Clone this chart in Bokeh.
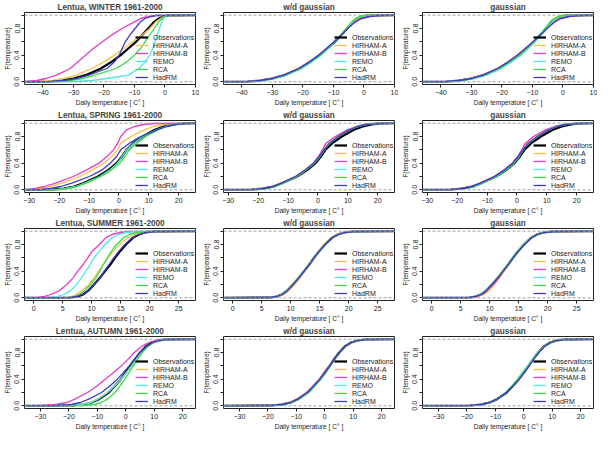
from bokeh.plotting import figure
from bokeh.layouts import gridplot
from bokeh.models import Range1d, FixedTicker, Span, Legend, LegendItem, PrintfTickFormatter
from bokeh.embed import file_html
from bokeh.resources import INLINE

# cumulative probability levels at which temperatures were read
P_LEVELS = [0.005, 0.02, 0.05, 0.1, 0.2, 0.3, 0.4, 0.5, 0.6, 0.7, 0.8, 0.9, 0.95, 0.98, 0.995]

SERIES = ["Observations", "HIRHAM-A", "HIRHAM-B", "REMO", "RCA", "HadRM"]
MODELS = SERIES[1:]

SEASONS = ["WINTER", "SPRING", "SUMMER", "AUTUMN"]
X_LIMITS = {"WINTER": (-46, 10), "SPRING": (-31.6, 25.6), "SUMMER": (-1.6, 27.9), "AUTUMN": (-35.6, 24.5)}
X_TICKS = {"WINTER": [-40, -30, -20, -10, 0, 10], "SPRING": [-30, -20, -10, 0, 10, 20],
           "SUMMER": [0, 5, 10, 15, 20, 25], "AUTUMN": [-30, -20, -10, 0, 10, 20]}
Y_TICKS = [0.0, 0.4, 0.8]
Y_MINOR = [0.2, 0.6, 1.0]

# ---- WINTER ----
WINTER_OBS = [-38, -34, -30, -26, -21, -17.5, -14.5, -12, -9.5, -7.5, -5.5, -3.5, -2, -0.5, 1]
WINTER_RAW = {
    "HIRHAM-A": [-42, -37, -33, -29, -24, -20, -16.5, -13.5, -10.5, -7.5, -5, -3, -1.5, -0.5, 0.5],
    "HIRHAM-B": [-45, -42, -39, -35.5, -31, -28.5, -26, -23.5, -20.5, -17.5, -14, -10, -8, -5.5, -3],
    "REMO": [-30, -24, -19, -12, -8.5, -6.5, -5, -4, -3.2, -2.5, -1.8, -1, -0.5, 0, 0.8],
    "RCA": [-36, -31, -27, -23, -16, -12.5, -10, -8, -6.5, -5, -3.5, -2, -1, -0.3, 0.5],
    "HadRM": [-38, -33, -29, -25, -19, -16.5, -15, -14, -13, -11.5, -9.8, -8, -6.5, -4.5, -3],
}
WINTER_WD = {
    "HIRHAM-A": [-38, -34.5, -30, -26, -21, -17.5, -14.5, -12, -9.7, -7.6, -5.6, -3.4, -1.8, 0, 1.5],
    "HIRHAM-B": [-38, -34, -30.5, -26.5, -21.5, -18, -15, -12.3, -9.8, -7.6, -5.4, -3, -1, 1.5, 4],
    "REMO": [-37, -33, -29, -25.5, -20.5, -17, -14, -11.7, -9.5, -7.5, -5.6, -3.8, -2.6, -1.2, 0.5],
    "RCA": [-37.5, -33.5, -29.5, -25.5, -20.8, -17.3, -14.3, -11.8, -9.6, -7.6, -5.8, -4, -2.8, -1.5, 0],
    "HadRM": [-38, -34, -30, -26.3, -21.3, -17.8, -14.8, -12.2, -9.8, -7.5, -5.3, -2.8, -0.8, 2, 4.5],
}
WINTER_GAUSS = {
    "HIRHAM-A": [-38, -34, -30, -26, -21.2, -17.6, -14.6, -12, -9.6, -7.4, -5.3, -3.2, -1.6, 0.3, 2],
    "HIRHAM-B": [-38.5, -34.5, -30.5, -26.5, -21.5, -18, -15, -12.3, -9.8, -7.5, -5.3, -2.8, -0.8, 1.8, 4.5],
    "REMO": [-37, -33, -29, -25, -20.3, -16.8, -13.8, -11.4, -9.2, -7.2, -5.4, -3.6, -2.4, -1, 0.5],
    "RCA": [-37.5, -33.5, -29.5, -25.5, -20.8, -17.2, -14.2, -11.7, -9.5, -7.6, -5.9, -4.2, -3, -1.6, -0.3],
    "HadRM": [-38, -34, -30, -26.2, -21.4, -17.9, -14.9, -12.3, -9.8, -7.5, -5.2, -2.7, -0.7, 2, 4.8],
}

# ---- SPRING ----
SPRING_OBS = [-22, -18.5, -15, -12, -7, -3.5, -0.8, 1, 2.5, 4.8, 8, 12, 15, 18, 21]
SPRING_RAW = {
    "HIRHAM-A": [-29, -26, -23, -19, -13, -8.8, -5, -2.4, -0.4, 0.6, 4, 8.4, 11.6, 14.8, 17.5],
    "HIRHAM-B": [-30, -28, -25, -21.2, -15.3, -10.8, -6.7, -4, -1.8, -0.4, 0.6, 2.5, 5.2, 8.4, 11.6],
    "REMO": [-21, -18, -14.5, -11.5, -6.5, -3, -0.5, 1, 2.5, 5, 8, 12.5, 15.5, 18.5, 21],
    "RCA": [-20, -17, -14, -11, -6, -2.5, 0.3, 2, 3.5, 6, 9, 13, 16, 19, 21.5],
    "HadRM": [-26, -23, -19.5, -15.8, -9.9, -5.6, -2.9, -0.8, 0.6, 3.5, 7.3, 12.7, 16, 19, 22],
}
SPRING_WD = {
    "HIRHAM-A": [-21.5, -18, -14.5, -12, -7.3, -4, -1.5, 0.3, 1.6, 2.8, 6, 10, 13, 16, 19],
    "HIRHAM-B": [-22, -18.5, -15, -12.3, -7.5, -4.2, -1.6, 0.2, 1.5, 2.7, 5.8, 9.8, 12.8, 15.8, 19],
    "REMO": [-21, -17.5, -14.3, -11.8, -7.2, -4, -1.3, 0.5, 2, 3.8, 6.8, 10.5, 13.3, 16, 19],
    "RCA": [-20.5, -17.3, -14, -11.6, -7, -3.8, -1.1, 0.7, 2.2, 4, 7, 10.7, 13.4, 16, 19],
    "HadRM": [-21.5, -18, -14.8, -12.2, -7.5, -4.2, -1.4, 0.4, 2, 3.8, 6.8, 10.5, 13.3, 16.2, 19.5],
}
SPRING_GAUSS = {
    "HIRHAM-A": [-21.5, -18, -14.6, -12, -7.4, -4, -1.4, 0.4, 1.8, 3, 5.8, 9.8, 12.8, 16, 19],
    "HIRHAM-B": [-22, -18.5, -15, -12.5, -7.7, -4.3, -1.6, 0.2, 1.6, 2.8, 5.5, 9.5, 12.6, 15.8, 19],
    "REMO": [-21, -17.5, -14.2, -11.7, -7, -3.7, -1.1, 0.6, 2, 3.8, 6.8, 10.5, 13.3, 16.2, 19.2],
    "RCA": [-20.5, -17.2, -14, -11.5, -6.8, -3.5, -0.9, 0.8, 2.1, 3.9, 7, 10.7, 13.4, 16.2, 19.2],
    "HadRM": [-21.5, -18, -14.8, -12.2, -7.5, -4.1, -1.4, 0.4, 2, 3.8, 6.8, 10.6, 13.4, 16.3, 19.5],
}

# ---- SUMMER ----
SUMMER_OBS = [6.5, 7.6, 8.5, 9.3, 10.4, 11.4, 12.3, 13.2, 14, 14.9, 15.9, 17.1, 18.1, 19.2, 20.7]
SUMMER_RAW = {
    "HIRHAM-A": [5.5, 6.5, 7.3, 8.2, 9.5, 10.4, 11.2, 12, 12.8, 13.7, 14.8, 16.2, 17.5, 19, 20.5],
    "HIRHAM-B": [0.8, 1.8, 2.9, 4.3, 5.7, 6.8, 7.6, 8.5, 9.3, 10.1, 11.3, 12.4, 13.5, 14.9, 16.5],
    "REMO": [3, 4, 5.2, 6.3, 7.4, 8.2, 9, 9.7, 10.4, 11.3, 12.3, 13.5, 14.6, 16, 17.5],
    "RCA": [6, 7, 7.8, 8.7, 9.8, 10.7, 11.4, 12, 12.7, 13.4, 14.3, 15.5, 16.5, 17.8, 19.5],
    "HadRM": [6.2, 7.5, 8.4, 9.3, 10.4, 11.4, 12.2, 13, 13.8, 14.7, 15.7, 17, 18, 19.2, 20.8],
}
SUMMER_WD = {
    "HIRHAM-A": [6.8, 7.9, 8.8, 9.6, 10.7, 11.6, 12.4, 13.2, 14, 14.8, 15.7, 16.9, 17.9, 19, 20.5],
    "HIRHAM-B": [6.6, 7.7, 8.6, 9.4, 10.5, 11.5, 12.4, 13.2, 14, 14.9, 15.9, 17, 18, 19.2, 20.7],
    "REMO": [6.5, 7.6, 8.5, 9.3, 10.4, 11.4, 12.3, 13.2, 14.0, 14.9, 15.9, 17.1, 18.1, 19.2, 20.6],
    "RCA": [6.4, 7.5, 8.4, 9.2, 10.3, 11.3, 12.2, 13.1, 14, 14.9, 15.9, 17.1, 18.2, 19.3, 20.8],
    "HadRM": [6.5, 7.6, 8.5, 9.3, 10.4, 11.4, 12.3, 13.2, 14.0, 14.9, 15.9, 17.1, 18.2, 19.3, 20.9],
}
SUMMER_GAUSS = {
    "HIRHAM-A": [7, 8.1, 9, 9.8, 10.8, 11.7, 12.5, 13.3, 14, 14.8, 15.7, 16.9, 17.9, 19, 20.5],
    "HIRHAM-B": [6.7, 7.8, 8.7, 9.5, 10.6, 11.6, 12.4, 13.2, 14, 14.9, 15.8, 17, 18, 19.1, 20.6],
    "REMO": [6.4, 7.5, 8.4, 9.2, 10.3, 11.3, 12.2, 13.1, 13.9, 14.8, 15.8, 17, 18.1, 19.2, 20.7],
    "RCA": [6.4, 7.5, 8.4, 9.2, 10.3, 11.3, 12.2, 13.1, 14, 14.9, 15.9, 17.1, 18.2, 19.3, 20.8],
    "HadRM": [6.5, 7.6, 8.5, 9.3, 10.4, 11.4, 12.3, 13.2, 14.0, 14.9, 16, 17.2, 18.2, 19.4, 21],
}

# ---- AUTUMN ----
AUTUMN_OBS = [-19, -15, -12, -9.4, -6, -3.8, -1.7, 0, 1.7, 3.3, 5.1, 7.3, 9.3, 11.5, 14]
AUTUMN_RAW = {
    "HIRHAM-A": [-20, -16, -12.5, -10, -6.5, -4, -1.7, 0.2, 2, 3.7, 5.5, 8, 10, 12.5, 15],
    "HIRHAM-B": [-29, -24.7, -20.7, -17.9, -13.4, -10, -7.2, -4.3, -1.5, 0.8, 3, 5.9, 8.1, 10.4, 13],
    "REMO": [-19.5, -15.5, -12, -9.7, -6.3, -3.9, -1.6, 0.3, 2.1, 3.8, 5.6, 8, 10, 12.3, 14.5],
    "RCA": [-15, -11, -8.5, -6.5, -3.8, -2, -0.3, 1.2, 2.7, 4.2, 5.8, 8, 9.8, 12, 14],
    "HadRM": [-24, -19, -16, -13, -8.5, -5.5, -3, -0.8, 1.2, 3, 5, 7.5, 9.5, 11.7, 14],
}
AUTUMN_WD = {
    "HIRHAM-A": [-19, -15.2, -12.2, -9.6, -6.2, -3.9, -1.8, 0, 1.7, 3.4, 5.2, 7.5, 9.5, 11.7, 14.3],
    "HIRHAM-B": [-19.5, -15.5, -12.4, -9.8, -6.4, -4.1, -1.9, -0.1, 1.7, 3.4, 5.3, 7.6, 9.6, 11.8, 14.5],
    "REMO": [-18.5, -14.8, -11.8, -9.2, -5.8, -3.5, -1.4, 0.3, 2, 3.6, 5.3, 7.5, 9.4, 11.5, 14],
    "RCA": [-18, -14.5, -11.5, -9, -5.6, -3.4, -1.3, 0.4, 2, 3.6, 5.3, 7.4, 9.3, 11.4, 13.8],
    "HadRM": [-19, -15, -12, -9.5, -6.1, -3.8, -1.7, 0.1, 1.8, 3.4, 5.2, 7.4, 9.4, 11.6, 14.2],
}
AUTUMN_GAUSS = {
    "HIRHAM-A": [-19, -15.2, -12.1, -9.5, -6.1, -3.8, -1.6, 0.2, 1.9, 3.5, 5.3, 7.5, 9.5, 11.7, 14.3],
    "HIRHAM-B": [-19.5, -15.5, -12.3, -9.7, -6.3, -3.9, -1.7, 0.1, 1.8, 3.4, 5.2, 7.5, 9.5, 11.8, 14.5],
    "REMO": [-18.5, -15, -12, -9.6, -6.4, -4.3, -2.3, -0.5, 1.3, 3.1, 5, 7.3, 9.3, 11.5, 14],
    "RCA": [-18.5, -14.8, -11.8, -9.4, -6.2, -4.1, -2.1, -0.3, 1.5, 3.2, 5.1, 7.3, 9.3, 11.5, 14],
    "HadRM": [-19, -15, -12, -9.5, -6.1, -3.8, -1.6, 0.2, 1.9, 3.5, 5.3, 7.5, 9.5, 11.7, 14.3],
}

OBS = {"WINTER": WINTER_OBS, "SPRING": SPRING_OBS, "SUMMER": SUMMER_OBS, "AUTUMN": AUTUMN_OBS}
PANELS = {
    "WINTER": [WINTER_RAW, WINTER_WD, WINTER_GAUSS],
    "SPRING": [SPRING_RAW, SPRING_WD, SPRING_GAUSS],
    "SUMMER": [SUMMER_RAW, SUMMER_WD, SUMMER_GAUSS],
    "AUTUMN": [AUTUMN_RAW, AUTUMN_WD, AUTUMN_GAUSS],
}
COLUMN_TITLES = [None, "w/d gaussian", "gaussian"]

# ---- styles ----
COLORS = {"Observations": "black", "HIRHAM-A": "#F2C14A", "HIRHAM-B": "#E43BC6",
          "REMO": "#4FE6E6", "RCA": "#3CDC46", "HadRM": "#3B3BC4"}
WIDTHS = {"Observations": 2.2, "HIRHAM-A": 1.3, "HIRHAM-B": 1.3, "REMO": 1.3, "RCA": 1.3, "HadRM": 1.3}
FONT = "Liberation Sans"
PW, PH = 199, 108


def make_panel(title, season, obs, models):
    x0, x1 = X_LIMITS[season]
    p = figure(width=PW, height=PH, x_range=Range1d(x0, x1), y_range=Range1d(-0.04, 1.04),
               output_backend="svg", toolbar_location=None,
               min_border_left=22, min_border_right=4, min_border_top=12, min_border_bottom=4)
    p.title.text = title
    p.title.align = "center"
    p.title.text_font = FONT
    p.title.text_font_size = "8.2px"
    p.title.text_font_style = "bold"
    p.title.standoff = 1
    p.title.offset = 0
    p.grid.visible = False
    p.outline_line_color = "#222222"
    p.outline_line_width = 1
    p.background_fill_color = "white"
    p.border_fill_color = "white"

    p.xaxis.ticker = FixedTicker(ticks=X_TICKS[season])
    p.yaxis.ticker = FixedTicker(ticks=Y_TICKS, minor_ticks=Y_MINOR)
    p.yaxis.formatter = PrintfTickFormatter(format="%.1f")
    p.yaxis.major_label_orientation = "vertical"
    p.xaxis.axis_label = "Daily temperature [ C\u00b0 ]"
    p.yaxis.axis_label = "F(temperature)"
    for ax in (p.xaxis[0], p.yaxis[0]):
        ax.axis_line_color = None
        ax.major_tick_in = 0
        ax.major_tick_out = 3
        ax.major_tick_line_color = "#222222"
        ax.major_label_text_font = FONT
        ax.major_label_text_font_size = "7px"
        ax.major_label_text_color = "#222222"
        ax.major_label_standoff = 2
        ax.axis_label_text_font = FONT
        ax.axis_label_text_font_size = "6.6px"
        ax.axis_label_text_font_style = "normal"
        ax.axis_label_text_color = "#222222"
        ax.axis_label_standoff = 1
    p.xaxis.minor_tick_line_color = None
    p.yaxis.minor_tick_in = 0
    p.yaxis.minor_tick_out = 3
    p.yaxis.minor_tick_line_color = "#222222"
    p.yaxis.axis_label_text_font_size = "6.3px"

    for loc in (0, 1):
        p.add_layout(Span(location=loc, dimension="width", line_color="#a0a0a0",
                          line_dash="3 2", line_width=1))

    items = []
    curves = {"Observations": obs}
    curves.update(models)
    for name in SERIES:
        xs = [x0] + list(curves[name]) + [x1]
        ys = [0.0] + P_LEVELS + [1.0]
        r = p.line(xs, ys, line_color=COLORS[name], line_width=WIDTHS[name])
        items.append(LegendItem(label=name, renderers=[r]))
    leg = Legend(items=items, location=(111, 3), background_fill_alpha=0, border_line_color=None,
                 label_text_font=FONT, label_text_font_size="7px", label_text_color="#222222",
                 glyph_width=13, glyph_height=8, label_height=8, spacing=0, padding=0, margin=0,
                 label_standoff=5)
    p.add_layout(leg)
    return p


rows = []
for season in SEASONS:
    row = []
    for ci, models in enumerate(PANELS[season]):
        title = COLUMN_TITLES[ci] or "Lentua, %s 1961-2000" % season
        row.append(make_panel(title, season, OBS[season], models))
    rows.append(row)

grid = gridplot(rows, toolbar_location=None)
open("out.html", "w").write(file_html(grid, INLINE))
